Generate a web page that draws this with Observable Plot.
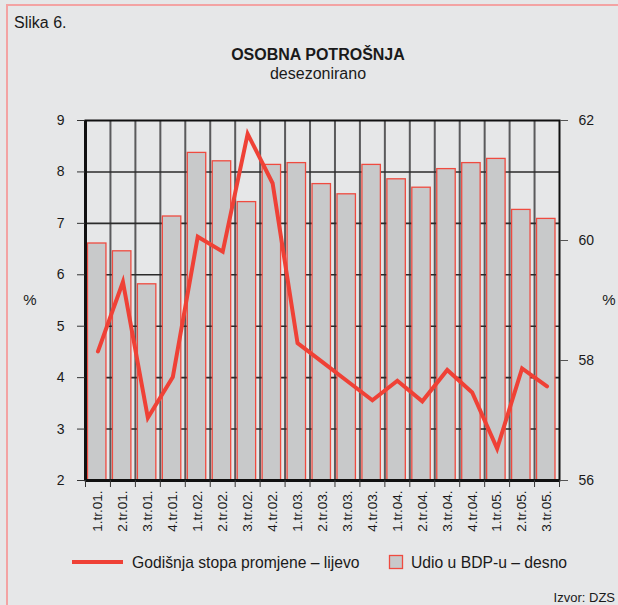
<!DOCTYPE html>
<html>
<head>
<meta charset="utf-8">
<script src="https://cdn.jsdelivr.net/npm/d3@7"></script>
<script src="https://cdn.jsdelivr.net/npm/@observablehq/plot@0.6"></script>
<style>
  html, body { margin: 0; padding: 0; background: #e6e7e8; }
  #wrap { position: relative; width: 618px; height: 605px; overflow: hidden; background: #e6e7e8; font-family: "Liberation Sans", Arial, sans-serif; }
  #frame { position: absolute; left: 6px; top: 4px; width: 700px; height: 700px; border-top: 2px solid #f3a3a3; border-left: 2px solid #f3a3a3; }
  #chart { position: absolute; left: 0; top: 0; }
  #overlay { position: absolute; left: 0; top: 0; pointer-events: none; }
</style>
</head>
<body>
<div id="wrap">
  <div id="frame"></div>
  <div id="chart"></div>
  <svg id="overlay" width="618" height="605" font-family="Liberation Sans, Arial, sans-serif" fill="#1a1a1a">
    <text x="14" y="28" font-size="16">Slika 6.</text>
    <text x="318" y="60" font-size="16" font-weight="bold" text-anchor="middle">OSOBNA POTROŠNJA</text>
    <text x="318" y="79" font-size="16" text-anchor="middle">desezonirano</text>
    <text x="30" y="305" font-size="15" text-anchor="middle">%</text>
    <text x="609" y="305" font-size="15" text-anchor="middle">%</text>
    <line x1="72" x2="123" y1="562" y2="562" stroke="#ef4136" stroke-width="4"></line>
    <text x="132" y="568" font-size="15.7">Godišnja stopa promjene – lijevo</text>
    <rect x="389.5" y="555.5" width="13" height="13" fill="#c8c9ca" stroke="#ef4b40" stroke-width="1.3"></rect>
    <text x="411" y="568" font-size="15.7">Udio u BDP-u – desno</text>
    <text x="615" y="602" font-size="13" text-anchor="end">Izvor: DZS</text>
  </svg>
</div>
<script>
// ---- data ----
const categories = ["1.tr.01.", "2.tr.01.", "3.tr.01.", "4.tr.01.", "1.tr.02.", "2.tr.02.", "3.tr.02.", "4.tr.02.",
  "1.tr.03.", "2.tr.03.", "3.tr.03.", "4.tr.03.", "1.tr.04.", "2.tr.04.", "3.tr.04.", "4.tr.04.",
  "1.tr.05.", "2.tr.05.", "3.tr.05."];
// Godišnja stopa promjene (left axis, %)
const growth = [4.51, 5.86, 3.22, 4.01, 6.74, 6.45, 8.74, 7.78, 4.67, 4.30, 3.93, 3.56, 3.94, 3.54, 4.15, 3.71, 2.62, 4.18, 3.83];
// Udio u BDP-u (right axis, %)
const share = [59.95, 59.82, 59.27, 60.40, 61.46, 61.32, 60.64, 61.26, 61.29, 60.94, 60.77, 61.26, 61.02, 60.88, 61.19, 61.29, 61.36, 60.51, 60.36];
const leftTicks = [2, 3, 4, 5, 6, 7, 8, 9];
const rightTicks = [56, 58, 60, 62];
const leftDomain = [2, 9];
const rightDomain = [56, 62];

// map right-axis values onto the left scale
const toLeft = v => leftDomain[0] + (v - rightDomain[0]) * (leftDomain[1] - leftDomain[0]) / (rightDomain[1] - rightDomain[0]);
const toRight = v => rightDomain[0] + (v - leftDomain[0]) * (rightDomain[1] - rightDomain[0]) / (leftDomain[1] - leftDomain[0]);

const rows = categories.map((c, i) => ({cat: c, i, growth: growth[i], share: share[i], shareL: toLeft(share[i])}));
const n = categories.length;
const idx = d3.range(n);
const bounds = d3.range(n + 1);

const chart = Plot.plot({
  width: 618,
  height: 545,
  marginTop: 120,
  marginBottom: 65,
  marginLeft: 85,
  marginRight: 59,
  style: {background: "transparent", fontFamily: "Liberation Sans, Arial, sans-serif", fontSize: "14px", color: "#1a1a1a"},
  x: {domain: [0, n]},
  y: {domain: leftDomain},
  marks: [
    // gridlines (behind bars)
    Plot.gridX(d3.range(1, n), {stroke: "#5a5a5c", strokeOpacity: 1, strokeWidth: 2}),
    Plot.gridY(leftTicks.slice(1, -1), {stroke: "#2b2b2b", strokeOpacity: 1, strokeWidth: 1.6}),
    // bars (right axis)
    Plot.rectY(rows, {x1: d => d.i, x2: d => d.i + 1, y1: leftDomain[0], y2: "shareL", insetLeft: 2.5, insetRight: 4,
      fill: "#c8c9ca", stroke: "#ef4b40", strokeWidth: 1.3}),
    // frame
    Plot.frame({stroke: "#111", strokeWidth: 2}),
    Plot.ruleX([0], {stroke: "#111", strokeWidth: 3}),
    Plot.ruleY([leftDomain[0]], {stroke: "#111", strokeWidth: 3}),
    // line (left axis)
    Plot.line(rows, {x: d => d.i + 0.5, y: "growth", stroke: "#ef4136", strokeWidth: 4, strokeLinejoin: "miter", strokeMiterlimit: 10}),
    // axes
    Plot.axisY(leftTicks, {anchor: "left", label: null, tickSize: 8, tickPadding: 13, stroke: "#333",
      tickFormat: d => String(d), fontSize: 14}),
    Plot.axisY(rightTicks.map(toLeft), {anchor: "right", label: null, tickSize: 8, tickPadding: 11, stroke: "#555",
      tickFormat: d => String(Math.round(toRight(d))), fontSize: 14}),
    Plot.axisX(bounds, {anchor: "bottom", label: null, tickSize: 7, tickFormat: () => "", stroke: "#333"}),
    Plot.axisX(idx.map(i => i + 0.5), {anchor: "bottom", label: null, tickSize: 0, tickPadding: 10, tickRotate: -90,
      tickFormat: d => categories[Math.floor(d)], fontSize: 13.5})
  ]
});
document.getElementById("chart").appendChild(chart);
</script>
</body>
</html>
